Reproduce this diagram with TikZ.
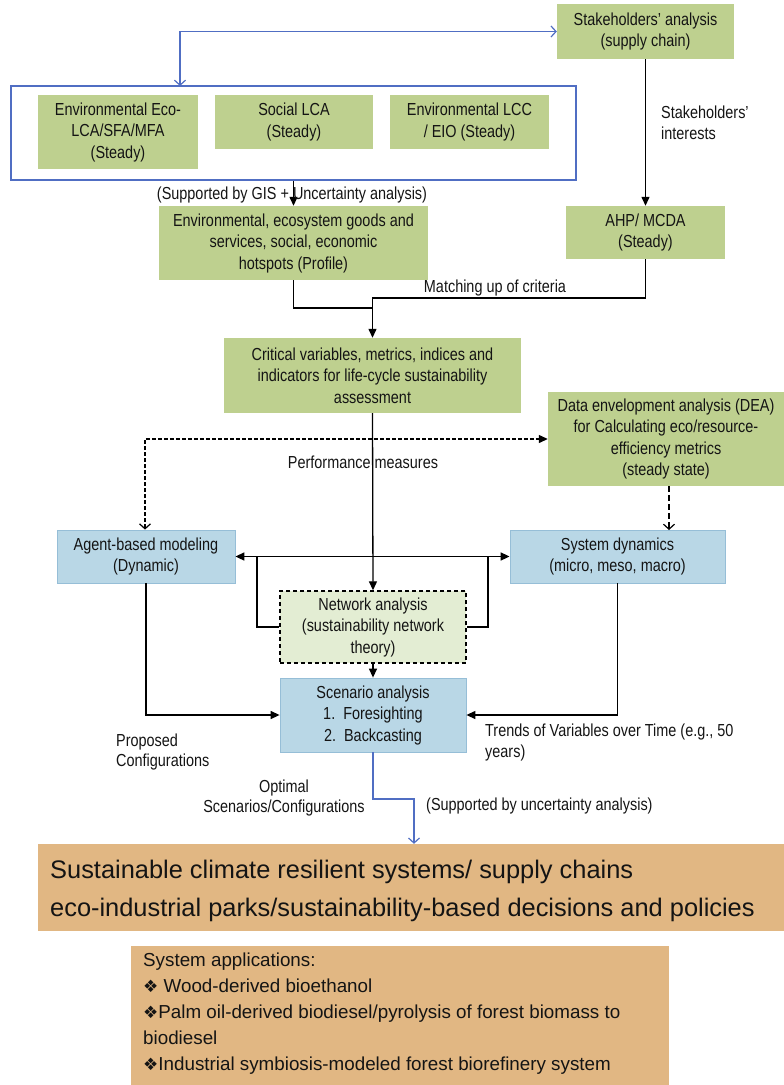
\documentclass[tikz,border=0pt]{standalone}
\usepackage{fontspec}
\setmainfont{Liberation Sans}
\newfontfamily\cond[FakeStretch=0.83]{Liberation Sans}
\newfontfamily\symfont{DejaVu Sans}
\usetikzlibrary{arrows.meta}
\definecolor{boxgreen}{RGB}{190,208,143}
\definecolor{palegreen}{RGB}{227,237,211}
\definecolor{boxblue}{RGB}{185,215,230}
\definecolor{blueedge}{RGB}{150,190,215}
\definecolor{boxorange}{RGB}{225,183,131}
\definecolor{linkblue}{RGB}{80,110,195}
\definecolor{txt}{RGB}{20,20,20}
\tikzset{
  base/.style={rectangle, inner sep=0pt, align=center, text=txt,
    font=\cond\fontsize{17.4}{21.5}\selectfont},
  greenbox/.style={base, fill=boxgreen},
  bluebox/.style={base, fill=boxblue, draw=blueedge, line width=0.8pt},
  lbl/.style={inner sep=0pt, text=txt, align=left,
    font=\cond\fontsize{17.4}{20.5}\selectfont},
  conn/.style={draw=black, line width=1.3pt},
  solidtip/.tip={Triangle[length=9pt,width=8pt]},
  opentip/.tip={Straight Barb[length=5pt,width=11pt,line width=1.2pt]},
}
\begin{document}
\begin{tikzpicture}[x=1pt,y=-1pt]
\useasboundingbox (0,0) rectangle (784,1085);

% top row: stakeholders and the three LCA-type analyses
\node[greenbox, minimum width=177pt, minimum height=55pt] (stake) at (645.5,31.5)
  {Stakeholders’ analysis\\(supply chain)};
\node[rectangle, draw=linkblue, line width=1.6pt, minimum width=565pt, minimum height=94pt] (frame) at (293.5,133) {};
\node[greenbox, minimum width=160pt, minimum height=74pt] (lca1) at (118,132)
  {Environmental Eco-\\LCA/SFA/MFA\\(Steady)};
\node[greenbox, minimum width=158pt, minimum height=54pt] (lca2) at (294,122)
  {Social LCA\\(Steady)};
\node[greenbox, minimum width=159pt, minimum height=54pt] (lca3) at (469.5,122)
  {Environmental LCC\\/ EIO (Steady)};

\coordinate (fk) at (180,86);
\draw[draw=linkblue, line width=1.4pt, opentip-opentip] (fk) |- (stake.west);

% profiles and criteria
\node[greenbox, minimum width=269pt, minimum height=74pt] (hot) at (293.5,243)
  {Environmental, ecosystem goods and\\services, social, economic\\hotspots (Profile)};
\node[greenbox, minimum width=159pt, minimum height=53pt] (ahp) at (645.5,232.5)
  {AHP/ MCDA\\(Steady)};
\node[greenbox, minimum width=297pt, minimum height=75pt] (crit) at (372.5,375.5)
  {Critical variables, metrics, indices and\\indicators for life-cycle sustainability\\assessment};

\draw[conn, -solidtip] (stake.south) -- (ahp.north);
\node[lbl, anchor=west] (interest) at (661,123) {Stakeholders’\\interests};

\draw[conn, -solidtip] (frame.south) -- (hot.north);
\node[lbl] (gis) at (292,195) {(Supported by GIS + Uncertainty analysis)};

\coordinate (j1) at (372.5,308);
\coordinate (j2) at (372.5,298);
\draw[conn] (hot.south) |- (j1);
\draw[conn, -solidtip] (ahp.south) |- (j2) -- (crit.north);
\node[lbl] (match) at (495,288) {Matching up of criteria};

% modelling layer
\node[greenbox, minimum width=236pt, minimum height=94pt] (dea) at (666,439)
  {Data envelopment analysis (DEA)\\for Calculating eco/resource-\\efficiency metrics\\(steady state)};
\node[bluebox, minimum width=178pt, minimum height=53pt] (agent) at (146,556.5)
  {Agent-based modeling\\(Dynamic)};
\node[bluebox, minimum width=215pt, minimum height=53pt] (sysd) at (617.5,556.5)
  {System dynamics\\(micro, meso, macro)};
\node[base, fill=palegreen, draw=black, dashed, dash pattern=on 4pt off 3pt, line width=1.4pt,
  minimum width=186pt, minimum height=72pt] (net) at (373,627)
  {Network analysis\\(sustainability network\\theory)};
\node[bluebox, minimum width=186pt, minimum height=74pt] (scen) at (373,715)
  {Scenario analysis\\1.\ \ Foresighting\\2.\ \ Backcasting};

\draw[black, line width=1.3pt, dash pattern=on 4pt off 2pt, opentip-solidtip]
  (agent.north -| 145,0) |- (dea.west);
\draw[black, line width=2.4pt, dash pattern=on 6pt off 3pt, -opentip]
  (669,486) -- (669,530);

\node[lbl] (perf) at (363,462) {Performance measures};
\draw[conn, -solidtip] (crit.south) -- (net.north);

\draw[conn, line width=1.6pt, solidtip-solidtip] (agent.east) -- (sysd.west);
\coordinate (l1) at (257,557);
\coordinate (r1) at (488,557);
\draw[conn] (l1) |- (net.west);
\draw[conn] (r1) |- (net.east);

\draw[conn, -solidtip] (net.south) -- (scen.north);
\draw[conn, -solidtip] (agent.south) |- (scen.west);
\draw[conn, -solidtip] (sysd.south) |- (scen.east);

\node[lbl, anchor=west] (prop) at (116,752) {Proposed\\Configurations};
\node[lbl, anchor=west] (trend) at (485,742.5) {Trends of Variables over Time (e.g., 50\\years)};

% outcomes
\node[rectangle, fill=boxorange, inner sep=0pt, minimum width=746pt, minimum height=87pt] (big) at (411,887.5) {};
\node[inner sep=0pt, anchor=west, align=left, text=txt,
  font=\fontsize{25.4}{38}\selectfont] (bigtxt) at (50,891)
  {Sustainable climate resilient systems/ supply chains\\eco-industrial parks/sustainability-based decisions and policies};

\coordinate (b2) at (414,799);
\draw[draw=linkblue, line width=1.4pt, -opentip] (scen.south) |- (b2) -- (b2 |- big.north);

\node[lbl, align=center] (opt) at (284,798) {Optimal\\Scenarios/Configurations};
\node[lbl, anchor=west] (unc) at (426,806) {(Supported by uncertainty analysis)};

\node[rectangle, fill=boxorange, inner sep=0pt, minimum width=538pt, minimum height=139pt] (apps) at (400,1015.5) {};
\node[inner sep=0pt, anchor=north west, align=left, text=txt,
  font=\fontsize{18.8}{25.8}\selectfont] (appstxt) at (143,953)
  {System applications:\\
   {\symfont\fontsize{17}{17}\selectfont ❖} Wood-derived bioethanol\\
   {\symfont\fontsize{17}{17}\selectfont ❖}Palm oil-derived biodiesel/pyrolysis of forest biomass to\\
   biodiesel\\
   {\symfont\fontsize{17}{17}\selectfont ❖}Industrial symbiosis-modeled forest biorefinery system};
\end{tikzpicture}
\end{document}
